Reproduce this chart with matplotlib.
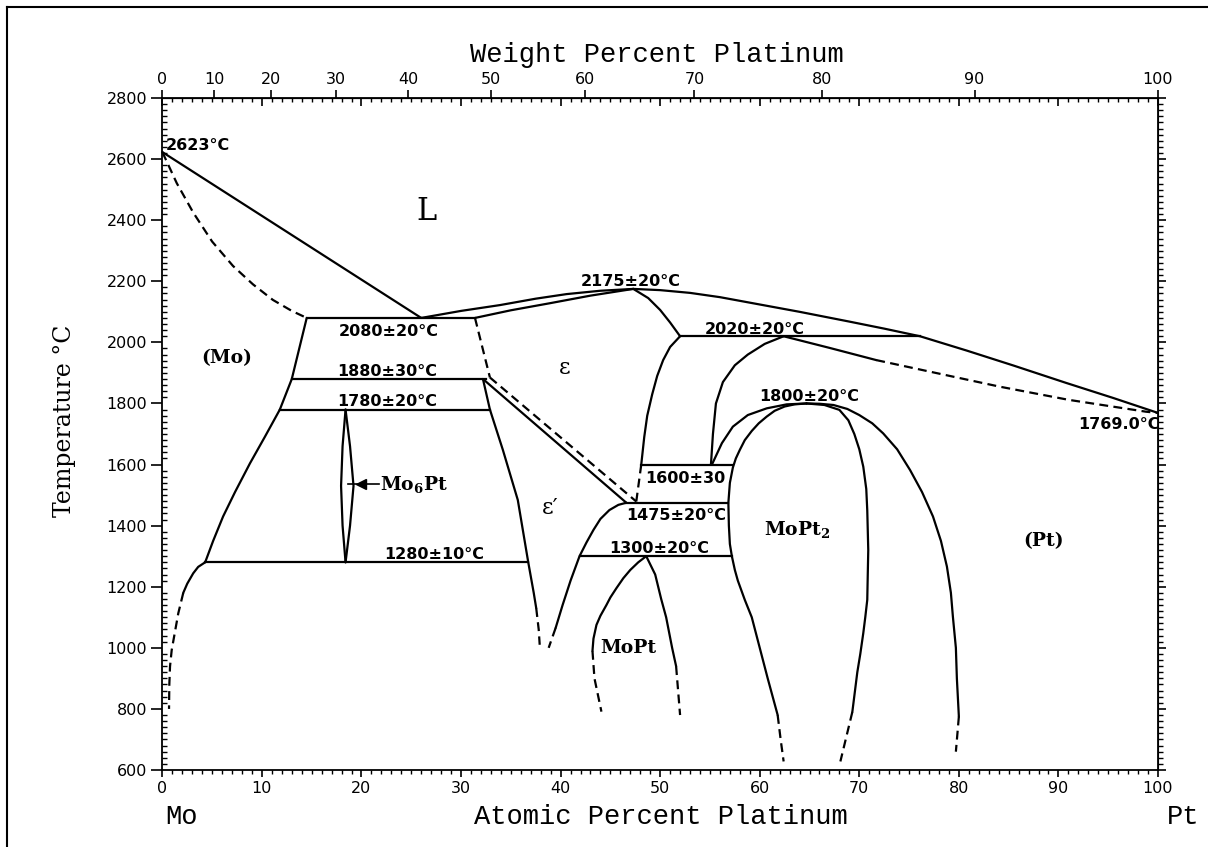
import numpy as np
import matplotlib
matplotlib.use("Agg")
import matplotlib.pyplot as plt
from matplotlib.lines import Line2D
from matplotlib.ticker import MultipleLocator, NullLocator

plt.rcParams['font.family'] = 'DejaVu Sans'
plt.rcParams['mathtext.fontset'] = 'dejavuserif'

# molar masses used for the weight-percent scale
M_MO = 95.95
M_PT = 195.08

# phase boundaries, (at.% Pt, temperature in C)
liq_mo = [(0, 2623), (26.0, 2080)]
sol_mo = [(0, 2623), (1.45, 2521), (3.1, 2425), (5.0, 2330), (7.1, 2250),
          (9.1, 2190), (11.1, 2139), (13.0, 2103), (14.5, 2080)]
liq_eps = [(26.0, 2080), (30.0, 2103), (33.9, 2122), (37.5, 2143), (40.6, 2158),
           (44.0, 2169), (47.3, 2175)]
sol_eps = [(31.4, 2080), (35.0, 2105), (38.9, 2128), (43.0, 2153), (47.3, 2175)]
liq_pt = [(47.3, 2175), (50.0, 2171), (53.0, 2162), (56.0, 2148), (59.0, 2130),
          (64.0, 2100), (69.0, 2068), (72.5, 2045), (76.1, 2020), (80.8, 1973),
          (85.5, 1924), (90.8, 1867), (95.5, 1818), (100, 1769)]
sol_pt = [(62.4, 2020), (67.0, 1982), (71.7, 1942)]
sol_pt_dash = [(71.7, 1942), (79.1, 1890), (84.1, 1855), (91.0, 1812), (98.8, 1773), (100, 1769)]

eps_top = [(47.3, 2175), (48.8, 2145), (50.0, 2106), (51.0, 2065), (52.0, 2020)]
eps_right = [(52.0, 2020), (51.0, 1985), (50.3, 1942), (49.7, 1890), (49.2, 1830),
             (48.7, 1760), (48.4, 1690), (48.1, 1600)]
eps_right_dash = [(48.1, 1600), (47.6, 1479)]
eps_left_dash = [(31.4, 2080), (32.9, 1885)]
diag_solid = [(32.2, 1880), (46.6, 1475)]
diag_dash = [(32.9, 1885), (47.6, 1479)]

epsp_left = [(32.2, 1880), (32.9, 1780), (34.2, 1648), (35.7, 1484), (36.75, 1280),
             (37.3, 1180), (37.55, 1130)]
epsp_left_dash = [(37.55, 1130), (37.8, 1060), (37.9, 1010)]
epsp_right = [(46.6, 1475), (45.8, 1468), (44.9, 1451), (44.0, 1422), (43.3, 1386),
              (42.6, 1345), (41.9, 1300), (41.0, 1220), (40.2, 1140), (39.5, 1065)]
epsp_right_dash = [(39.5, 1065), (38.8, 1000)]

mo_upper = [(14.5, 2080), (13.0, 1880), (11.8, 1780)]
mo_solvus = [(11.8, 1780), (10.3, 1691), (8.8, 1604), (7.3, 1510), (6.1, 1430),
             (5.1, 1350), (4.3, 1280)]
mo_low = [(4.3, 1280), (3.6, 1265), (3.1, 1244), (2.5, 1210), (2.1, 1180)]
mo_low_dash = [(2.1, 1180), (1.6, 1113), (0.94, 993), (0.77, 939), (0.7, 880), (0.67, 800)]

lens_left = [(18.4, 1780), (18.1, 1660), (17.95, 1530), (18.1, 1400), (18.4, 1280)]
lens_right = [(18.4, 1780), (18.85, 1660), (19.2, 1530), (18.85, 1400), (18.4, 1280)]

eps2_left = [(62.4, 2020), (60.5, 1995), (58.8, 1960), (57.5, 1925), (56.3, 1870),
             (55.6, 1800), (55.3, 1700), (55.1, 1600)]
arc_peak = [(55.2, 1600), (56.2, 1670), (57.3, 1724), (58.8, 1762), (60.7, 1784),
            (62.7, 1797), (64.7, 1800)]

mopt_left = [(48.6, 1300), (47.8, 1280), (47.0, 1255), (46.3, 1228), (45.6, 1195),
             (45.0, 1165), (44.6, 1140), (44.0, 1105), (43.6, 1075), (43.3, 1030), (43.2, 990)]
mopt_left_dash = [(43.2, 990), (43.4, 900), (44.1, 791)]
mopt_right = [(48.6, 1300), (49.5, 1240), (50.1, 1160), (50.6, 1100), (51.2, 1000), (51.6, 940)]
mopt_right_dash = [(51.6, 940), (52.0, 780)]

mopt2_left = [(64.7, 1800), (63.5, 1797), (62.5, 1790), (61.5, 1776), (60.7, 1757),
              (59.9, 1735), (59.2, 1710), (58.5, 1680), (58.0, 1648), (57.6, 1620),
              (57.3, 1590), (57.0, 1540), (56.85, 1475), (56.9, 1400), (57.0, 1340),
              (57.2, 1300), (57.5, 1255), (57.8, 1220), (58.5, 1157), (59.2, 1100),
              (60.0, 1000), (60.8, 900), (61.8, 780)]
mopt2_left_dash = [(61.8, 780), (62.1, 700), (62.4, 628)]
mopt2_right = [(64.7, 1800), (66.5, 1795), (68.0, 1779), (68.9, 1745), (69.5, 1700),
               (70.0, 1650), (70.4, 1593), (70.7, 1520), (70.8, 1450), (70.9, 1320),
               (70.85, 1240), (70.8, 1157), (70.6, 1100), (70.4, 1048), (70.1, 980),
               (69.8, 920), (69.3, 790)]
mopt2_right_dash = [(69.3, 790), (68.1, 628)]
pt_solvus = [(64.7, 1800), (66.0, 1799), (67.4, 1795), (68.8, 1782), (70.0, 1762),
             (71.3, 1735), (72.4, 1702), (73.8, 1650), (75.1, 1582), (76.3, 1510),
             (77.4, 1430), (78.2, 1350), (78.8, 1266), (79.2, 1180), (79.4, 1102),
             (79.7, 1000), (79.8, 900), (80.0, 775)]
pt_solvus_dash = [(80.0, 775), (79.7, 660)]

# invariant lines: temperature, left end, right end
isotherms = [(2080, 14.5, 31.4), (1880, 13.0, 32.5), (1780, 11.8, 32.9), (1280, 4.3, 36.75),
             (2020, 52.0, 76.1), (1600, 48.1, 57.2), (1475, 46.6, 56.8), (1300, 41.9, 57.2)]

solid_curves = [liq_mo, liq_eps, sol_eps, liq_pt, sol_pt, eps_top, eps_right, diag_solid,
                epsp_left, epsp_right, mo_upper, mo_solvus, mo_low, lens_left, lens_right,
                eps2_left, arc_peak, mopt_left, mopt_right, mopt2_left, mopt2_right, pt_solvus]
dashed_curves = [sol_mo, sol_pt_dash, eps_right_dash, eps_left_dash, diag_dash, epsp_left_dash,
                 epsp_right_dash, mo_low_dash, mopt_left_dash, mopt_right_dash,
                 mopt2_left_dash, mopt2_right_dash, pt_solvus_dash]

# temperature annotations (text, x, T, ha)
temp_labels = [
    ("2623°C", 0.3, 2646, 'left'),
    ("2080±20°C", 22.7, 2035, 'center'),
    ("1880±30°C", 22.6, 1904, 'center'),
    ("1780±20°C", 22.6, 1806, 'center'),
    ("1280±10°C", 27.3, 1304, 'center'),
    ("2175±20°C", 47.0, 2199, 'center'),
    ("2020±20°C", 59.5, 2043, 'center'),
    ("1800±20°C", 65.0, 1824, 'center'),
    ("1600±30", 52.5, 1555, 'center'),
    ("1475±20°C", 51.6, 1433, 'center'),
    ("1300±20°C", 49.9, 1324, 'center'),
    ("1769.0°C", 100.2, 1730, 'right'),
]

# phase field names (text, x, T, size, weight)
phase_labels = [
    ("L", 26.5, 2428, 22, 'normal'),
    ("(Mo)", 6.5, 1948, 13.5, 'bold'),
    ("ε", 40.4, 1915, 16, 'normal'),
    ("ε′", 39.0, 1457, 16, 'normal'),
    ("MoPt", 46.8, 999, 13.5, 'bold'),
    (r"MoPt$_\mathbf{2}$", 63.8, 1386, 13.5, 'bold'),
    ("(Pt)", 88.5, 1348, 13.5, 'bold'),
]

mo6pt_arrow_x = [18.6, 21.8]
mo6pt_arrow_T = 1535

wt_ticks = list(range(0, 101, 10))
at_ticks = list(range(0, 101, 10))
temp_ticks = list(range(600, 2801, 200))


def at_to_wt(a):
    a = np.asarray(a, dtype=float)
    with np.errstate(divide='ignore', invalid='ignore'):
        return 100 * a * M_PT / (a * M_PT + (100 - a) * M_MO)


def wt_to_at(w):
    w = np.asarray(w, dtype=float)
    with np.errstate(divide='ignore', invalid='ignore'):
        return 100 * (w / M_PT) / (w / M_PT + (100 - w) / M_MO)


def draw(ax, pts, dashed=False):
    x = [p[0] for p in pts]
    y = [p[1] for p in pts]
    ls = (0, (4, 2.4)) if dashed else '-'
    ax.plot(x, y, color='black', lw=1.6, linestyle=ls, solid_joinstyle='round',
            solid_capstyle='round', clip_on=False)


fig = plt.figure(figsize=(12.08, 8.47), dpi=100)
ax = fig.add_axes([0.1344, 0.0909, 0.8242, 0.7934])
ax.set_xlim(0, 100)
ax.set_ylim(600, 2800)

for c in solid_curves:
    draw(ax, c)
for c in dashed_curves:
    draw(ax, c, dashed=True)
for T, x0, x1 in isotherms:
    ax.plot([x0, x1], [T, T], color='black', lw=1.6)

# Mo6Pt pointer
ax.plot(mo6pt_arrow_x, [mo6pt_arrow_T] * 2, color='black', lw=1.2)
ax.plot(20.0, mo6pt_arrow_T, marker='<', ms=7, color='black')
ax.text(21.9, mo6pt_arrow_T, r"Mo$_\mathbf{6}$Pt", family='DejaVu Serif', fontsize=13.5,
        fontweight='bold', ha='left', va='center')

for txt, x, T, ha in temp_labels:
    ax.text(x, T, txt, fontsize=11.5, fontweight='bold', ha=ha, va='center')
for txt, x, T, size, weight in phase_labels:
    ax.text(x, T, txt, family='DejaVu Serif', fontsize=size, fontweight=weight,
            ha='center', va='center')

# axes and ticks
for s in ax.spines.values():
    s.set_linewidth(1.3)
ax.set_xticks(at_ticks)
ax.xaxis.set_minor_locator(MultipleLocator(1))
ax.set_yticks(temp_ticks)
ax.yaxis.set_minor_locator(MultipleLocator(20))
ax.tick_params(top=False, right=False, labelsize=11.5)
ax.tick_params(axis='x', which='major', direction='out', length=5, width=1.2, pad=3)
ax.tick_params(axis='x', which='minor', direction='out', length=3, width=1.0)
ax.tick_params(axis='y', which='major', direction='out', length=8, width=1.2, pad=3)
ax.tick_params(axis='y', which='minor', direction='in', length=3.5, width=1.0)

top_at = ax.secondary_xaxis('top')
top_at.set_xticks(at_ticks)
top_at.xaxis.set_minor_locator(MultipleLocator(1))
top_at.tick_params(which='major', direction='in', length=6, width=1.2, labeltop=False)
top_at.tick_params(which='minor', direction='in', length=3, width=1.0)

top_wt = ax.secondary_xaxis('top', functions=(at_to_wt, wt_to_at))
top_wt.set_xticks(wt_ticks)
top_wt.xaxis.set_minor_locator(NullLocator())
top_wt.tick_params(which='major', direction='out', length=6, width=1.2, pad=2, labelsize=11.5)

right_T = ax.secondary_yaxis('right')
right_T.set_yticks(temp_ticks)
right_T.yaxis.set_minor_locator(MultipleLocator(20))
right_T.tick_params(which='major', direction='out', length=6, width=1.2, labelright=False)
right_T.tick_params(which='minor', direction='out', length=3.5, width=1.0)

# axis titles
W, H = 1208, 847
fig.text(657 / W, 1 - 55 / H, "Weight Percent Platinum", family='Liberation Mono',
         fontsize=19.5, ha='center', va='center')
fig.text(661 / W, 1 - 817 / H, "Atomic Percent Platinum", family='Liberation Mono',
         fontsize=19.5, ha='center', va='center')
fig.text(165 / W, 1 - 817 / H, "Mo", family='Liberation Mono', fontsize=19.5,
         ha='left', va='center')
fig.text(1183 / W, 1 - 817 / H, "Pt", family='Liberation Mono', fontsize=19.5,
         ha='center', va='center')
fig.text(65 / W, 1 - 421 / H, "Temperature °C", family='DejaVu Serif', fontsize=17,
         rotation=90, ha='center', va='center')

# page frame
fig.add_artist(Line2D([7 / W, 1], [1 - 7 / H, 1 - 7 / H], color='black', lw=1.5))
fig.add_artist(Line2D([7 / W, 7 / W], [0, 1 - 7 / H], color='black', lw=1.5))

fig.savefig("out.png", dpi=100)
